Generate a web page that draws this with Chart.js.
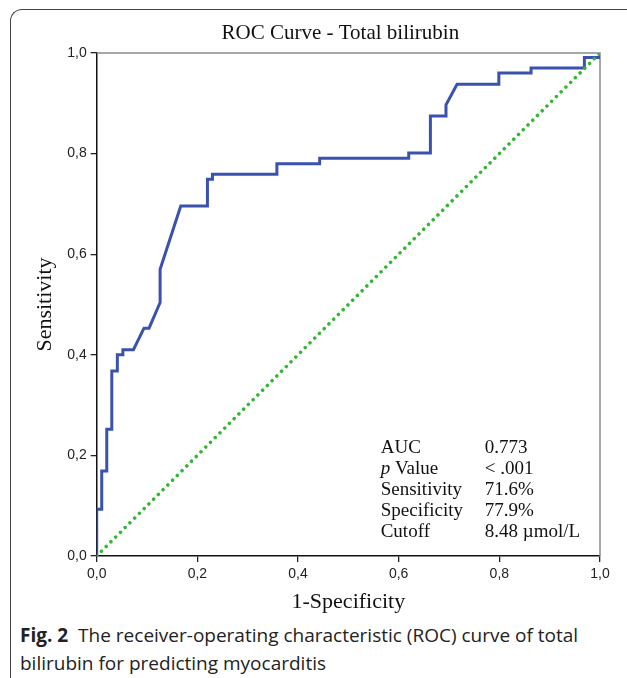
<!DOCTYPE html>
<html>
<head>
<meta charset="utf-8">
<script src="https://cdn.jsdelivr.net/npm/chart.js@4.4.0/dist/chart.umd.min.js"></script>
<style>
  html, body { margin: 0; padding: 0; background: #fff; }
  body { width: 627px; height: 678px; position: relative; overflow: hidden; }
  #frame { position: absolute; left: 10px; top: 9px; width: 640px; height: 700px;
    border-top: 1.5px solid #444; border-left: 1.5px solid #444; border-top-left-radius: 12px; }
  #wrap { position: absolute; left: 0; top: 0; width: 627px; height: 615px; }
  #caption { position: absolute; left: 20px; top: 621px; width: 605px;
    font-family: "Open Sans", sans-serif; font-size: 19px; line-height: 28px; color: #222; }
  #caption b { font-weight: 700; margin-right: 5px; }
</style>
</head>
<body>
<div id="frame"></div>
<div id="wrap"><canvas id="roc"></canvas></div>
<div id="caption"><b>Fig. 2</b> The receiver-operating characteristic (ROC) curve of total bilirubin for predicting myocarditis</div>
<script>
// ROC curve points (1-specificity, sensitivity)
const fpr = [0, 0, 0.010, 0.010, 0.020, 0.020, 0.030, 0.030, 0.041, 0.041, 0.052, 0.052, 0.073, 0.094, 0.104,
  0.126, 0.126, 0.167, 0.220, 0.220, 0.230, 0.230, 0.358, 0.358, 0.443, 0.443, 0.620, 0.620, 0.663, 0.663,
  0.694, 0.694, 0.716, 0.799, 0.799, 0.863, 0.863, 0.969, 0.969, 1.0, 1.0];
const tpr = [0, 0.093, 0.093, 0.169, 0.169, 0.252, 0.252, 0.368, 0.368, 0.400, 0.400, 0.410, 0.410, 0.453, 0.453,
  0.504, 0.570, 0.696, 0.696, 0.749, 0.749, 0.759, 0.759, 0.780, 0.780, 0.791, 0.791, 0.801, 0.801, 0.875,
  0.875, 0.897, 0.938, 0.938, 0.960, 0.960, 0.970, 0.970, 0.991, 0.991, 1.0];

// reference (chance) line
const refX = [0, 1];
const refY = [0, 1];

const chartTitle = 'ROC Curve - Total bilirubin';
const xTitle = '1-Specificity';
const yTitle = 'Sensitivity';

const statLabels = ['AUC', 'p Value', 'Sensitivity', 'Specificity', 'Cutoff'];
const statValues = ['0.773', '< .001', '71.6%', '77.9%', '8.48 \u00b5mol/L'];

const toPoints = (xs, ys) => xs.map((x, i) => ({ x, y: ys[i] }));
const commaTick = v => v.toFixed(1).replace('.', ',');

const serif = '"Liberation Serif", "Times New Roman", serif';
const sans = '"Liberation Sans", Arial, sans-serif';

// frame of the plot, title and the stats block
const decorPlugin = {
    id: 'decor',
    beforeDatasetsDraw(chart) {
        const { ctx, chartArea: a } = chart;
        ctx.save();
        ctx.strokeStyle = '#8c8c8c';
        ctx.lineWidth = 1.5;
        ctx.beginPath();
        ctx.moveTo(a.left, a.top);
        ctx.lineTo(a.right, a.top);
        ctx.lineTo(a.right, a.bottom);
        ctx.stroke();
        ctx.restore();
    },
    afterDraw(chart) {
        const { ctx, chartArea: a } = chart;
        ctx.save();
        ctx.fillStyle = '#111';
        ctx.textBaseline = 'middle';

        ctx.font = `21px ${serif}`;
        ctx.textAlign = 'center';
        ctx.fillText(chartTitle, (a.left + a.right) / 2 - 8, 33);

        ctx.textAlign = 'left';
        const x0 = a.left + 284;
        const x1 = a.left + 388;
        statLabels.forEach((label, i) => {
            const y = 448 + i * 21;
            if (label.startsWith('p ')) {
                ctx.font = `italic 19px ${serif}`;
                ctx.fillText('p', x0, y);
                const w = ctx.measureText('p').width;
                ctx.font = `19px ${serif}`;
                ctx.fillText(label.slice(1), x0 + w, y);
            } else {
                ctx.font = `19px ${serif}`;
                ctx.fillText(label, x0, y);
            }
            ctx.font = `19px ${serif}`;
            ctx.fillText(statValues[i], x1, y);
        });
        ctx.restore();
    }
};

const axisCommon = {
    type: 'linear',
    min: 0,
    max: 1,
    border: { display: true, color: '#111', width: 1.5 },
    grid: { drawOnChartArea: false, drawTicks: true, tickLength: 6, color: '#222', lineWidth: 1.3 },
};

const ctx = document.getElementById('roc').getContext('2d');
new Chart(ctx, {
    type: 'line',
    data: {
        datasets: [{
            label: 'Reference',
            data: toPoints(refX, refY),
            borderColor: '#35b535',
            borderWidth: 3.5,
            borderDash: [0.1, 6.6],
            borderCapStyle: 'round',
            pointRadius: 0,
            tension: 0
        }, {
            label: 'Total bilirubin',
            data: toPoints(fpr, tpr),
            borderColor: '#3a52ae',
            borderWidth: 3,
            borderJoinStyle: 'miter',
            pointRadius: 0,
            tension: 0
        }]
    },
    options: {
        responsive: true,
        maintainAspectRatio: false,
        animation: false,
        layout: { padding: { left: 0, top: 53, right: 27, bottom: 0 } },
        plugins: {
            legend: { display: false },
            title: { display: false },
            tooltip: { enabled: false }
        },
        scales: {
            x: {
                ...axisCommon,
                position: 'bottom',
                ticks: { stepSize: 0.2, padding: 4, color: '#222', font: { family: sans, size: 14 }, callback: commaTick },
                title: { display: true, text: xTitle, color: '#111', padding: { top: 0, bottom: 0 }, font: { family: serif, size: 22 } },
                afterFit(scale) { scale.height = 59; }
            },
            y: {
                ...axisCommon,
                position: 'left',
                ticks: { stepSize: 0.2, padding: 4, color: '#222', font: { family: sans, size: 14 }, callback: commaTick },
                title: { display: true, text: yTitle, color: '#111', padding: { top: 32, bottom: 0 }, font: { family: serif, size: 22 } },
                afterFit(scale) { scale.width = 96.7; }
            }
        }
    },
    plugins: [decorPlugin]
});
</script>
</body>
</html>
